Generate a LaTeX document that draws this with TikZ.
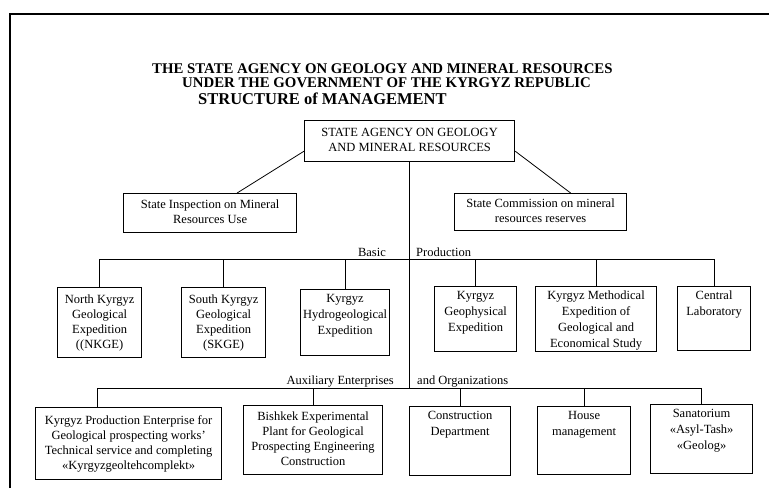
\documentclass[tikz,border=0pt]{standalone}
\usepackage{fontspec}
\setmainfont{Liberation Serif}
\usetikzlibrary{calc}
\newcommand\tbx[3]{\parbox[c][#2][t]{#1}{\centering\fontsize{12.5}{16}\selectfont\vspace*{2pt}\strut #3\strut\par}}
\newcommand\cbx[3]{\parbox[c][#2][c]{#1}{\centering\fontsize{12.5}{15}\selectfont\strut #3\strut\par}}
\tikzset{
  orgbox/.style={draw, line width=1.2pt, inner sep=0pt, anchor=north west, fill=white},
  conn/.style={line width=0.8pt},
  lbl/.style={inner sep=0pt, font=\fontsize{12.5}{15}\selectfont},
  ttl/.style={inner sep=0pt, anchor=base west, font=\bfseries\fontsize{14.8}{16}\selectfont},
}
\begin{document}
\begin{tikzpicture}[x=1pt,y=-1pt]
\useasboundingbox (0,0) rectangle (769,488);
% frame
\draw[line width=1.5pt] (10,488) -- (10,14) -- (769,14);
% titles
\node[ttl] (t1) at (152,73) {THE STATE AGENCY ON GEOLOGY AND MINERAL RESOURCES};
\node[ttl] (t2) at (182,87) {UNDER THE GOVERNMENT OF THE KYRGYZ REPUBLIC};
\node[ttl, font=\bfseries\fontsize{16.5}{18}\selectfont] (t3) at (198,104.5) {STRUCTURE of MANAGEMENT};
% top
\node[orgbox] (top) at (304,120) {\cbx{210pt}{41pt}{STATE AGENCY ON GEOLOGY\\AND MINERAL RESOURCES}};
\node[orgbox] (insp) at (123,193) {\cbx{173pt}{39pt}{State Inspection on Mineral\\Resources Use}};
\node[orgbox] (comm) at (454,193) {\cbx{172pt}{37pt}{State Commission on mineral\\resources reserves}};
\draw[conn] ($(top.south west)+(0,-11)$) -- ($(insp.north)+(27,0)$);
\draw[conn] ($(top.south east)+(0,-11)$) -- ($(comm.north)+(30,0)$);
% row 2
\node[orgbox] (nkge) at (57,287) {\cbx{84pt}{70pt}{North Kyrgyz\\Geological\\Expedition\\((NKGE)}};
\node[orgbox] (skge) at (181,287) {\cbx{84pt}{70pt}{South Kyrgyz\\Geological\\Expedition\\(SKGE)}};
\node[orgbox] (hydro) at (300,289) {\tbx{89pt}{66pt}{Kyrgyz\\Hydrogeological\\Expedition}};
\node[orgbox] (geo) at (434,286) {\tbx{82pt}{65pt}{Kyrgyz\\Geophysical\\Expedition}};
\node[orgbox] (meth) at (535,286) {\tbx{121pt}{65pt}{Kyrgyz Methodical\\Expedition of\\Geological and\\Economical Study}};
\node[orgbox] (lab) at (677,286) {\tbx{73pt}{64pt}{Central\\Laboratory}};
% row 3
\node[orgbox] (kpe) at (35,407) {\cbx{186pt}{72pt}{Kyrgyz Production Enterprise for\\Geological prospecting works'\\Technical service and completing\\«Kyrgyzgeoltehcomplekt»}};
\node[orgbox] (bish) at (243,405) {\cbx{139pt}{69pt}{Bishkek Experimental\\Plant for Geological\\Prospecting Engineering\\Construction}};
\node[orgbox] (cons) at (409,406) {\tbx{101pt}{69pt}{Construction\\Department}};
\node[orgbox] (house) at (537,406) {\tbx{93pt}{68pt}{House\\management}};
\node[orgbox] (sana) at (650,404) {\tbx{102pt}{69pt}{Sanatorium\\«Asyl-Tash»\\«Geolog»}};
% buses
\coordinate (ub) at (0,259);
\coordinate (lb) at (0,388);
\coordinate (lbL) at (97,388);
\draw[conn] (top.south) -- (top.south |- lb);
\draw[conn] (nkge.north |- ub) -- (lab.north |- ub);
\draw[conn] (lbL) -- (sana.north |- lb);
\foreach \n in {nkge,skge,hydro,geo,meth,lab} \draw[conn] (\n.north) -- (\n.north |- ub);
\foreach \n in {bish,cons,house,sana} \draw[conn] (\n.north) -- (\n.north |- lb);
\draw[conn] (lbL) -- (lbL |- kpe.north);
% labels
\node[lbl, anchor=base east] (lbasic) at (386,256) {Basic};
\node[lbl, anchor=base west] (lprod) at (416,256) {Production};
\node[lbl, anchor=base east] (laux) at (394,384) {Auxiliary Enterprises};
\node[lbl, anchor=base west] (lorg) at (417,384) {and Organizations};
\end{tikzpicture}
\end{document}
